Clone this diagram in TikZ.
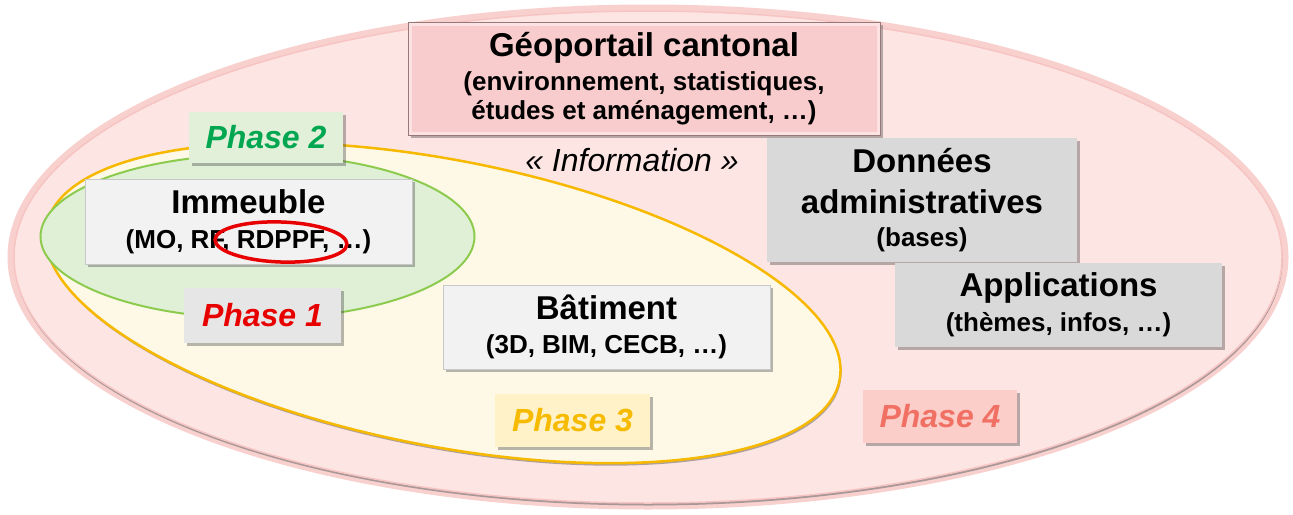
\documentclass[tikz,border=0pt]{standalone}
\usepackage{fontspec}
\setmainfont{Liberation Sans}
\usetikzlibrary{shadows}

\definecolor{outerfill}{RGB}{253,229,227}
\definecolor{outerline}{RGB}{246,196,194}
\definecolor{yelfill}{RGB}{254,248,230}
\definecolor{yelline}{RGB}{247,185,0}
\definecolor{grnfill}{RGB}{224,240,214}
\definecolor{grnline}{RGB}{140,203,78}
\definecolor{geofill}{RGB}{248,204,204}
\definecolor{geoedge}{RGB}{150,120,120}
\definecolor{geobevel}{RGB}{252,226,226}
\definecolor{lightbox}{RGB}{242,242,242}
\definecolor{lightedge}{RGB}{200,200,200}
\definecolor{greybox}{RGB}{217,217,217}
\definecolor{ph1fill}{RGB}{230,230,230}
\definecolor{ph1text}{RGB}{232,0,0}
\definecolor{ph2fill}{RGB}{226,240,217}
\definecolor{ph2text}{RGB}{0,166,80}
\definecolor{ph3fill}{RGB}{255,242,200}
\definecolor{ph3text}{RGB}{246,186,0}
\definecolor{ph4fill}{RGB}{252,206,202}
\definecolor{ph4text}{RGB}{240,112,100}
\definecolor{ringred}{RGB}{232,0,0}

\newcommand\titlefont{\fontsize{33}{35}\selectfont\bfseries}
\newcommand\subfont{\fontsize{26}{35}\selectfont\bfseries}
\newcommand\phasefont{\fontsize{32}{36}\selectfont\bfseries\itshape}

\begin{document}
\begin{tikzpicture}[x=1pt,y=-1pt,
  boxshadow/.style={drop shadow={shadow xshift=2.5pt,shadow yshift=-3pt,opacity=0.4,fill=black!70}},
  infobox/.style={rectangle,inner sep=0pt,align=center,boxshadow,font=\titlefont},
  lightinfo/.style={infobox,fill=lightbox,draw=lightedge,line width=0.8pt},
  greyinfo/.style={infobox,fill=greybox},
  phasebox/.style={rectangle,inner sep=0pt,boxshadow,font=\phasefont,
    minimum width=155pt,minimum height=53pt}]
\useasboundingbox (0,0) rectangle (1293,514);

% outer region (phase 4): soft rim, shadow, body
\draw[outerline,line width=7pt,opacity=0.8] (648,257) ellipse [x radius=637, y radius=249];
\fill[black!55,opacity=0.6] (648.5,259.5) ellipse [x radius=634, y radius=246];
\filldraw[fill=outerfill,draw=outerline,line width=1.5pt] (648,257) ellipse [x radius=634, y radius=246];

% cantonal geoportal
\node[infobox,fill=geofill,draw=geoedge,line width=1pt,
  minimum width=472pt,minimum height=113pt,
  path picture={\draw[geobevel,line width=7pt]
    (path picture bounding box.south west) rectangle (path picture bounding box.north east);}]
  (geo) at (644,78.5)
  {G\'eoportail cantonal\\[-1pt]{\subfont (environnement, statistiques,}\\[-6pt]{\subfont \'etudes et am\'enagement, …)}};

% phase 3 region
\filldraw[fill=yelfill,draw=yelline,line width=2.5pt,
  drop shadow={shadow xshift=1pt,shadow yshift=-2.5pt,opacity=0.45,fill=black!70},
  rotate around={-11:(443,303)}] (443,303) ellipse [x radius=404, y radius=143];

% phase 2 region
\filldraw[fill=grnfill,draw=grnline,line width=2pt] (257.5,236.5) ellipse [x radius=217, y radius=82];

% information label
\node[font=\fontsize{32}{36}\selectfont\itshape] (info) at (632,160) {«~Information~»};

% content boxes
\node[lightinfo,minimum width=327pt,minimum height=85pt] (imm) at (248.5,221.5)
  {Immeuble\\[0pt]{\subfont (MO, RF, RDPPF, …)}};
\node[lightinfo,minimum width=327pt,minimum height=84pt] (bat) at (606.5,327)
  {B\^atiment\\[-1pt]{\subfont (3D, BIM, CECB, …)}};
\node[greyinfo,minimum width=310pt,minimum height=124pt] (don) at (922,200)
  {Donn\'ees\\[6pt]administratives\\[-2pt]{\subfont (bases)}};
\node[greyinfo,minimum width=327pt,minimum height=84pt] (app) at (1058.5,305)
  {Applications\\[0pt]{\subfont (th\`emes, infos, …)}};

% highlighted reference
\draw[ringred,line width=3.5pt,rotate around={-2:(281,242)}] (281,242) ellipse [x radius=66, y radius=20];

% phase labels
\node[phasebox,fill=ph2fill,text=ph2text,minimum width=154pt,minimum height=51pt] (p2) at (266,137.5) {Phase 2};
\node[phasebox,fill=ph1fill,text=ph1text,minimum width=157pt,minimum height=55pt] (p1) at (262.5,315.5) {Phase 1};
\node[phasebox,fill=ph3fill,text=ph3text] (p3) at (572.5,420) {Phase 3};
\node[phasebox,fill=ph4fill,text=ph4text,minimum width=154pt] (p4) at (940,416) {Phase 4};
\end{tikzpicture}
\end{document}
